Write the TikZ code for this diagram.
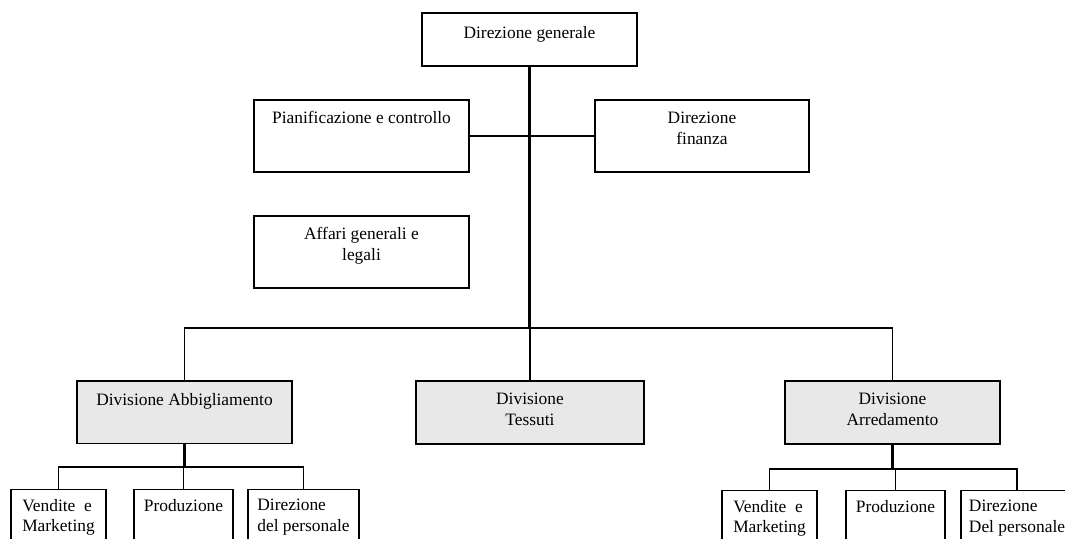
\documentclass[tikz,border=0pt]{standalone}
\usepackage{fontspec}
\setmainfont{Liberation Serif}
\begin{document}
\begin{tikzpicture}[x=1pt,y=-1pt,
  box/.style={draw=black,line width=1.2pt,inner sep=0pt,outer sep=0pt,anchor=north west,fill=white},
  divbox/.style={box,fill=black!9},
  lbl/.style={anchor=north,align=center,inner sep=0pt,font=\fontsize{17.4}{21}\selectfont},
  sublbl/.style={anchor=north,align=left,inner sep=0pt,font=\fontsize{17.4}{20.5}\selectfont},
  conn/.style={line width=1.2pt},
  trunk/.style={line width=2.2pt}]
\path[use as bounding box] (0,0) rectangle (1065,538);
\clip (0,0) rectangle (1065,538);
% top level
\node[box,minimum width=215pt,minimum height=53pt,
  label={[lbl,yshift=-13pt]north:Direzione generale}] (dg) at (422,13) {};
\node[box,minimum width=215pt,minimum height=72pt,
  label={[lbl,yshift=-11.3pt]north:Pianificazione e controllo}] (pian) at (254,100) {};
\node[box,minimum width=214pt,minimum height=72pt,
  label={[lbl,yshift=-11.3pt]north:Direzione\\finanza}] (fin) at (595,100) {};
\node[box,minimum width=215pt,minimum height=72pt,
  label={[lbl,yshift=-11.3pt]north:Affari generali e\\legali}] (aff) at (254,216) {};
% divisions
\node[divbox,minimum width=215pt,minimum height=62.5pt,
  label={[lbl,yshift=-11.8pt]north:Divisione Abbigliamento}] (abb) at (77,381) {};
\node[divbox,minimum width=228pt,minimum height=63pt,
  label={[lbl,yshift=-11.8pt]north:Divisione\\Tessuti}] (tes) at (416,381) {};
\node[divbox,minimum width=215pt,minimum height=63pt,
  label={[lbl,yshift=-11.8pt]north:Divisione\\Arredamento}] (arr) at (785,381) {};
% sub units left
\node[box,minimum width=95pt,minimum height=80pt,
  label={[sublbl,yshift=-9.5pt]north:Vendite\ \ e\\Marketing}] (v1) at (11,489.5) {};
\node[box,minimum width=99pt,minimum height=80pt,
  label={[sublbl,yshift=-9.5pt]north:Produzione}] (p1) at (134,489.5) {};
\node[box,minimum width=111pt,minimum height=80pt,
  label={[sublbl,yshift=-9.5pt]north:Direzione\\del personale}] (d1) at (248,489.5) {};
% sub units right
\node[box,minimum width=95pt,minimum height=80pt,
  label={[sublbl,yshift=-9.5pt]north:Vendite\ \ e\\Marketing}] (v2) at (722,490.5) {};
\node[box,minimum width=99pt,minimum height=80pt,
  label={[sublbl,yshift=-9.5pt]north:Produzione}] (p2) at (846,490.5) {};
\node[box,minimum width=112pt,minimum height=80pt,
  label={[sublbl,yshift=-9.5pt]north:Direzione\\Del personale}] (d2) at (961,490.5) {};
% connectors
\coordinate (bus) at (530,328);
\coordinate (bl) at (184,467);
\coordinate (br) at (892,469);
\draw[conn] (pian.east) -- (fin.west);
\draw[trunk] (dg.south) -- (dg.south |- bus);
\draw[conn] (abb.north) |- (bus) -| (arr.north);
\draw[conn] (tes.north) -- (tes.north |- bus);
\draw[trunk] (abb.south) -- (abb.south |- bl);
\draw[conn] (v1.north) |- (bl) -| (d1.north);
\draw[conn] (p1.north) -- (p1.north |- bl);
\draw[trunk] (arr.south) -- (arr.south |- br);
\draw[conn] (v2.north) |- (br) -| (d2.north);
\draw[conn] (p2.north) -- (p2.north |- br);
\end{tikzpicture}
\end{document}
